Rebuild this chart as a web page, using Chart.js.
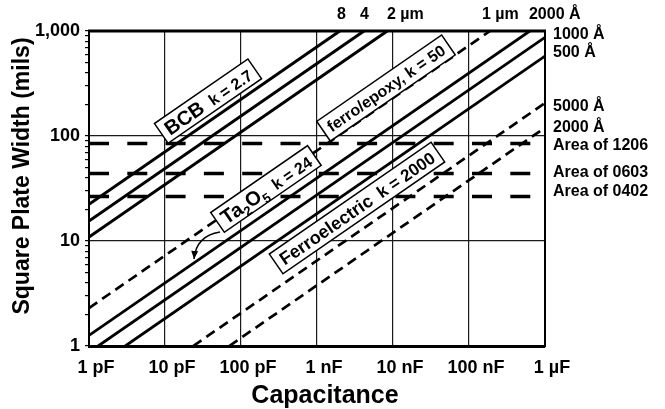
<!DOCTYPE html>
<html>
<head>
<meta charset="utf-8">
<script src="https://cdn.jsdelivr.net/npm/chart.js@4/dist/chart.umd.min.js"></script>
<style>
html,body{margin:0;padding:0;background:#fff;}
#wrap{width:665px;height:409px;}
</style>
</head>
<body>
<div id="wrap"><canvas id="c" width="665" height="409"></canvas></div>
<script>
// ---------- data (capacitance in pF, square plate width in mils) ----------
const capacitanceTicks  = [1, 10, 100, 1000, 10000, 100000, 1000000];
const capacitanceLabels = ['1 pF', '10 pF', '100 pF', '1 nF', '10 nF', '100 nF', '1 µF'];
const widthTicks        = [1, 10, 100, 1000];
const widthLabels       = ['1', '10', '100', '1,000'];
const widthMinorTicks   = [2,3,4,5,6,7,8,9,20,30,40,50,60,70,80,90,200,300,400,500,600,700,800,900];

// BCB, k = 2.7 (solid)
const bcb8um  = [[1, 22.4], [1995, 1000]];
const bcb4um  = [[1, 15.5], [4150, 1000]];
const bcb2um  = [[1, 10.9], [8400, 1000]];
// Ta2O5, k = 24 (solid)
const ta2o5_2000A = [[1, 1.26], [631000, 1000]];
const ta2o5_1000A = [[1.32, 1], [1000000, 871]];
const ta2o5_500A  = [[3.0, 1],  [1000000, 577]];
// ferro/epoxy, k = 50 (dashed)
const ferroEpoxy1um = [[1, 2.3], [189000, 1000]];
// Ferroelectric, k = 2000 (dashed)
const ferroelectric5000A = [[23.5, 1], [1000000, 206]];
const ferroelectric2000A = [[70, 1],   [1000000, 120]];
// Chip areas (long dashes)
const area1206 = [[1, 85],   [1000000, 85]];
const area0603 = [[1, 44],   [1000000, 44]];
const area0402 = [[1, 26.5], [1000000, 26.5]];

// ---------- labels ----------
const topLabels   = [['8', 1833], ['4', 3680], ['2 µm', 8340], ['1 µm', 148000], ['2000 Å', 615000]];
const rightLabels = [['1000 Å', 916], ['500 Å', 617], ['5000 Å', 190], ['2000 Å', 120],
                     ['Area of 1206', 80.4], ['Area of 0603', 44.4], ['Area of 0402', 29.8]];

const FONT = "'Liberation Sans', Arial, Helvetica, sans-serif";
const INK = '#000';
const GRID = '#1a1a1a';

const labelBoxes = [
  {at: [36.8, 215], parts: [{t: 'BCB', s: 20}, {t: '  ', s: 16}, {t: 'k = 2.7', s: 16}]},
  {at: [213, 31.3], parts: [{t: 'Ta', s: 20}, {t: '2', s: 13, sub: true}, {t: 'O', s: 20}, {t: '5', s: 13, sub: true}, {t: '  ', s: 16}, {t: 'k = 24', s: 16}]},
  {at: [8090, 286], parts: [{t: 'ferro/epoxy, k = 50', s: 16}]},
  {at: [3360, 20.6], parts: [{t: 'Ferroelectric', s: 18}, {t: '  ', s: 16}, {t: 'k = 2000', s: 17}]}
];
const arrowPath = {from: [52.9, 12.2], ctrl: [25.6, 11.2], to: [24.1, 6.74]};

// ---------- datasets ----------
function seg(label, pts, style) {
  return Object.assign({
    label: label,
    data: pts.map(p => ({x: p[0], y: p[1]})),
    showLine: true, pointRadius: 0, pointHoverRadius: 0,
    borderColor: INK, backgroundColor: INK, fill: false, tension: 0
  }, style);
}
const solidBCB = {borderWidth: 3};
const solidTa  = {borderWidth: 2.8};
const dashed   = {borderWidth: 2.7, borderDash: [10, 6]};
const areaDash = {borderWidth: 3.5, borderDash: [20, 18.3]};

const datasets = [
  seg('BCB 8 µm', bcb8um, solidBCB),
  seg('BCB 4 µm', bcb4um, solidBCB),
  seg('BCB 2 µm', bcb2um, solidBCB),
  seg('Ta2O5 2000 Å', ta2o5_2000A, solidTa),
  seg('Ta2O5 1000 Å', ta2o5_1000A, solidTa),
  seg('Ta2O5 500 Å', ta2o5_500A, solidTa),
  seg('ferro/epoxy 1 µm', ferroEpoxy1um, dashed),
  seg('Ferroelectric 5000 Å', ferroelectric5000A, dashed),
  seg('Ferroelectric 2000 Å', ferroelectric2000A, dashed),
  seg('Area of 1206', area1206, areaDash),
  seg('Area of 0603', area0603, areaDash),
  seg('Area of 0402', area0402, areaDash)
];

// ---------- drawing helpers ----------
function drawBox(ctx, cx, cy, ang, parts) {
  ctx.save();
  ctx.translate(cx, cy);
  ctx.rotate(ang);
  const widths = parts.map(p => { ctx.font = `bold ${p.s}px ${FONT}`; return ctx.measureText(p.t).width; });
  const total = widths.reduce((a, b) => a + b, 0);
  const padX = 6, h = 24;
  const w = total + 2 * padX;
  ctx.fillStyle = '#fff';
  ctx.fillRect(-w / 2, -h / 2, w, h);
  ctx.lineWidth = 1.5;
  ctx.strokeStyle = INK;
  ctx.strokeRect(-w / 2, -h / 2, w, h);
  const maxS = Math.max(...parts.filter(p => !p.sub).map(p => p.s));
  const base = 0.36 * maxS;
  let xx = -total / 2;
  ctx.fillStyle = INK;
  ctx.textBaseline = 'alphabetic';
  ctx.textAlign = 'left';
  parts.forEach((p, i) => {
    ctx.font = `bold ${p.s}px ${FONT}`;
    ctx.fillText(p.t, xx, base + (p.sub ? 5 : 0));
    xx += widths[i];
  });
  ctx.restore();
}

const annot = {
  id: 'annot',
  afterDatasetsDraw(chart) {
    const {ctx, scales: {x, y}} = chart;
    const ang = Math.atan2(y.getPixelForValue(Math.sqrt(10)) - y.getPixelForValue(1),
                           x.getPixelForValue(10) - x.getPixelForValue(1));
    // curved arrow from Ta2O5 label to its line
    const P = p => [x.getPixelForValue(p[0]), y.getPixelForValue(p[1])];
    const a = P(arrowPath.from), c = P(arrowPath.ctrl), b = P(arrowPath.to);
    ctx.save();
    ctx.strokeStyle = INK; ctx.fillStyle = INK; ctx.lineWidth = 1.5;
    ctx.beginPath(); ctx.moveTo(a[0], a[1]); ctx.quadraticCurveTo(c[0], c[1], b[0], b[1]); ctx.stroke();
    const d = Math.atan2(b[1] - c[1], b[0] - c[0]);
    ctx.beginPath();
    ctx.moveTo(b[0], b[1]);
    ctx.lineTo(b[0] - 8 * Math.cos(d) + 3.5 * Math.sin(d), b[1] - 8 * Math.sin(d) - 3.5 * Math.cos(d));
    ctx.lineTo(b[0] - 8 * Math.cos(d) - 3.5 * Math.sin(d), b[1] - 8 * Math.sin(d) + 3.5 * Math.cos(d));
    ctx.closePath(); ctx.fill();
    ctx.restore();
    labelBoxes.forEach(bx => drawBox(ctx, x.getPixelForValue(bx.at[0]), y.getPixelForValue(bx.at[1]), ang, bx.parts));
  },
  afterDraw(chart) {
    const {ctx, chartArea: ca, scales: {x, y}} = chart;
    ctx.save();
    ctx.strokeStyle = INK;
    // top and right frame
    ctx.lineWidth = 3;
    ctx.beginPath(); ctx.moveTo(ca.left - 1, ca.top); ctx.lineTo(ca.right + 1, ca.top); ctx.stroke();
    ctx.lineWidth = 2;
    ctx.beginPath(); ctx.moveTo(ca.right, ca.top); ctx.lineTo(ca.right, ca.bottom + 1); ctx.stroke();
    // top labels
    ctx.fillStyle = INK;
    ctx.font = `bold 16px ${FONT}`;
    ctx.textBaseline = 'middle';
    ctx.textAlign = 'left';
    topLabels.forEach(l => ctx.fillText(l[0], x.getPixelForValue(l[1]), ca.top - 16));
    // right labels
    rightLabels.forEach(l => ctx.fillText(l[0], ca.right + 8, y.getPixelForValue(l[1])));
    // axis titles
    ctx.textAlign = 'center';
    ctx.font = `bold 25px ${FONT}`;
    ctx.fillText('Capacitance', 325, 396);
    ctx.save();
    ctx.translate(23, 176);
    ctx.rotate(-Math.PI / 2);
    ctx.font = `bold 23px ${FONT}`;
    ctx.fillText('Square Plate Width (mils)', 0, 0);
    ctx.restore();
    ctx.restore();
  }
};

Chart.defaults.font.family = FONT;
Chart.defaults.font.weight = 'bold';
Chart.defaults.color = INK;

new Chart(document.getElementById('c'), {
  type: 'scatter',
  data: {datasets: datasets},
  options: {
    responsive: false,
    animation: false,
    events: [],
    layout: {padding: {top: 31, right: 120, bottom: 0, left: 0}},
    plugins: {legend: {display: false}, tooltip: {enabled: false}},
    scales: {
      x: {
        type: 'logarithmic', min: 1, max: 1000000,
        afterFit: s => { s.height = 63; },
        afterBuildTicks: s => { s.ticks = capacitanceTicks.map(v => ({value: v})); },
        ticks: {
          autoSkip: false, maxRotation: 0, padding: 7, labelOffset: 7,
          font: {size: 18, weight: 'bold'},
          callback: v => { const i = capacitanceTicks.indexOf(v); return i >= 0 ? capacitanceLabels[i] : ''; }
        },
        grid: {color: GRID, lineWidth: 1.2, tickLength: 4, tickColor: 'rgba(0,0,0,0)'},
        border: {display: true, color: INK, width: 3},
        title: {display: false}
      },
      y: {
        type: 'logarithmic', min: 1, max: 1000,
        afterFit: s => { s.width = 89; },
        afterBuildTicks: s => {
          s.ticks = widthTicks.concat(widthMinorTicks).sort((a, b) => a - b).map(v => ({value: v}));
        },
        ticks: {
          autoSkip: false, padding: 5,
          font: {size: 18, weight: 'bold'},
          callback: v => { const i = widthTicks.indexOf(v); return i >= 0 ? widthLabels[i] : ''; }
        },
        grid: {
          color: c => (c.tick && widthTicks.includes(c.tick.value)) ? GRID : 'rgba(0,0,0,0)',
          lineWidth: 1.2, tickLength: 4, tickColor: INK
        },
        border: {display: true, color: INK, width: 2},
        title: {display: false}
      }
    }
  },
  plugins: [annot]
});
</script>
</body>
</html>
